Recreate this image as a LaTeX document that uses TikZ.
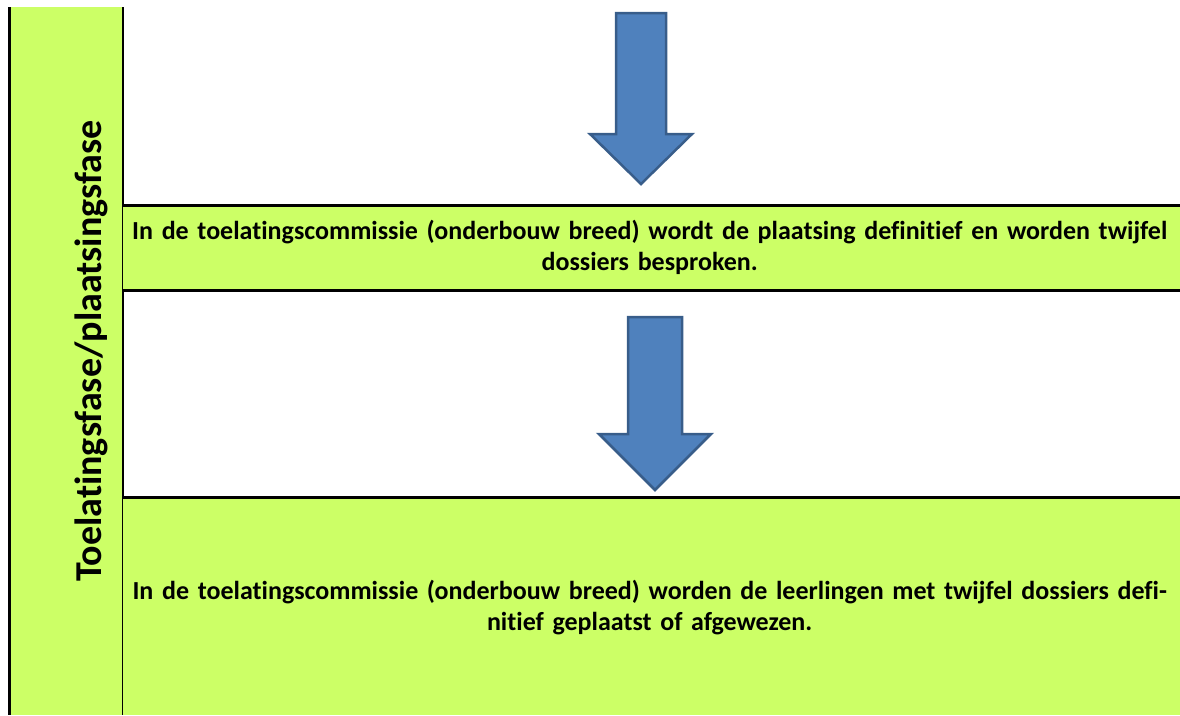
\documentclass[tikz,border=0pt]{standalone}
\usepackage{fontspec}
\setmainfont[Ligatures=NoCommon]{Carlito}
\usepackage{tikz}

\definecolor{phasegreen}{HTML}{CCFF66}
\definecolor{arrowblue}{HTML}{4F81BD}
\definecolor{arrowedge}{HTML}{385D8A}

\begin{document}
\begin{tikzpicture}[x=1pt,y=-1pt,
    stepbox/.style={fill=phasegreen, draw=none, inner sep=0pt, anchor=north west, minimum width=1057pt},
    steptext/.style={font=\bfseries\fontsize{26}{31}\selectfont, align=center, text width=1100pt, inner sep=0pt},
    rule/.style={line width=3pt}]
  \useasboundingbox (0,0) rectangle (1180,715);
  % phase column
  \fill[phasegreen] (10,7) rectangle (123,715);
  \draw[line width=3pt] (9.5,7) -- (9.5,715);
  \draw[line width=2pt] (123,7) -- (123,715);
  \node[rotate=90, font=\bfseries\fontsize{38}{44}\selectfont] (phase) at (91,351) {Toelatingsfase/plaatsingsfase};
  % steps
  \node[stepbox, minimum height=85pt] (box1) at (123,205) {};
  \node[stepbox, minimum height=218pt] (box2) at (123,497) {};
  \draw[rule] (box1.north west) -- (box1.north east);
  \draw[rule] (box1.south west) -- (box1.south east);
  \draw[rule] (box2.north west) -- (box2.north east);
  \node[steptext] (text1) at ([xshift=-2pt]box1.center) {In de toelatingscommissie (onderbouw breed) wordt de plaatsing definitief en worden twijfel\\dossiers besproken.};
  \node[steptext] (text2) at ([xshift=-2pt,yshift=-1pt]box2.center) {In de toelatingscommissie (onderbouw breed) worden de leerlingen met twijfel dossiers defi-\\nitief geplaatst of afgewezen.};
  % arrows
  \foreach \cx/\ytop/\yneck/\ytip/\as/\ah in {641/13/134/184/25/51, 655/317/434/490/27/56} {
    \draw[line width=2.5pt, draw=arrowedge, fill=arrowblue, line join=miter]
      ({\cx-\as},\ytop) -- ({\cx+\as},\ytop) -- ({\cx+\as},\yneck) -- ({\cx+\ah},\yneck)
      -- (\cx,\ytip) -- ({\cx-\ah},\yneck) -- ({\cx-\as},\yneck) -- cycle;
  }
\end{tikzpicture}
\end{document}
